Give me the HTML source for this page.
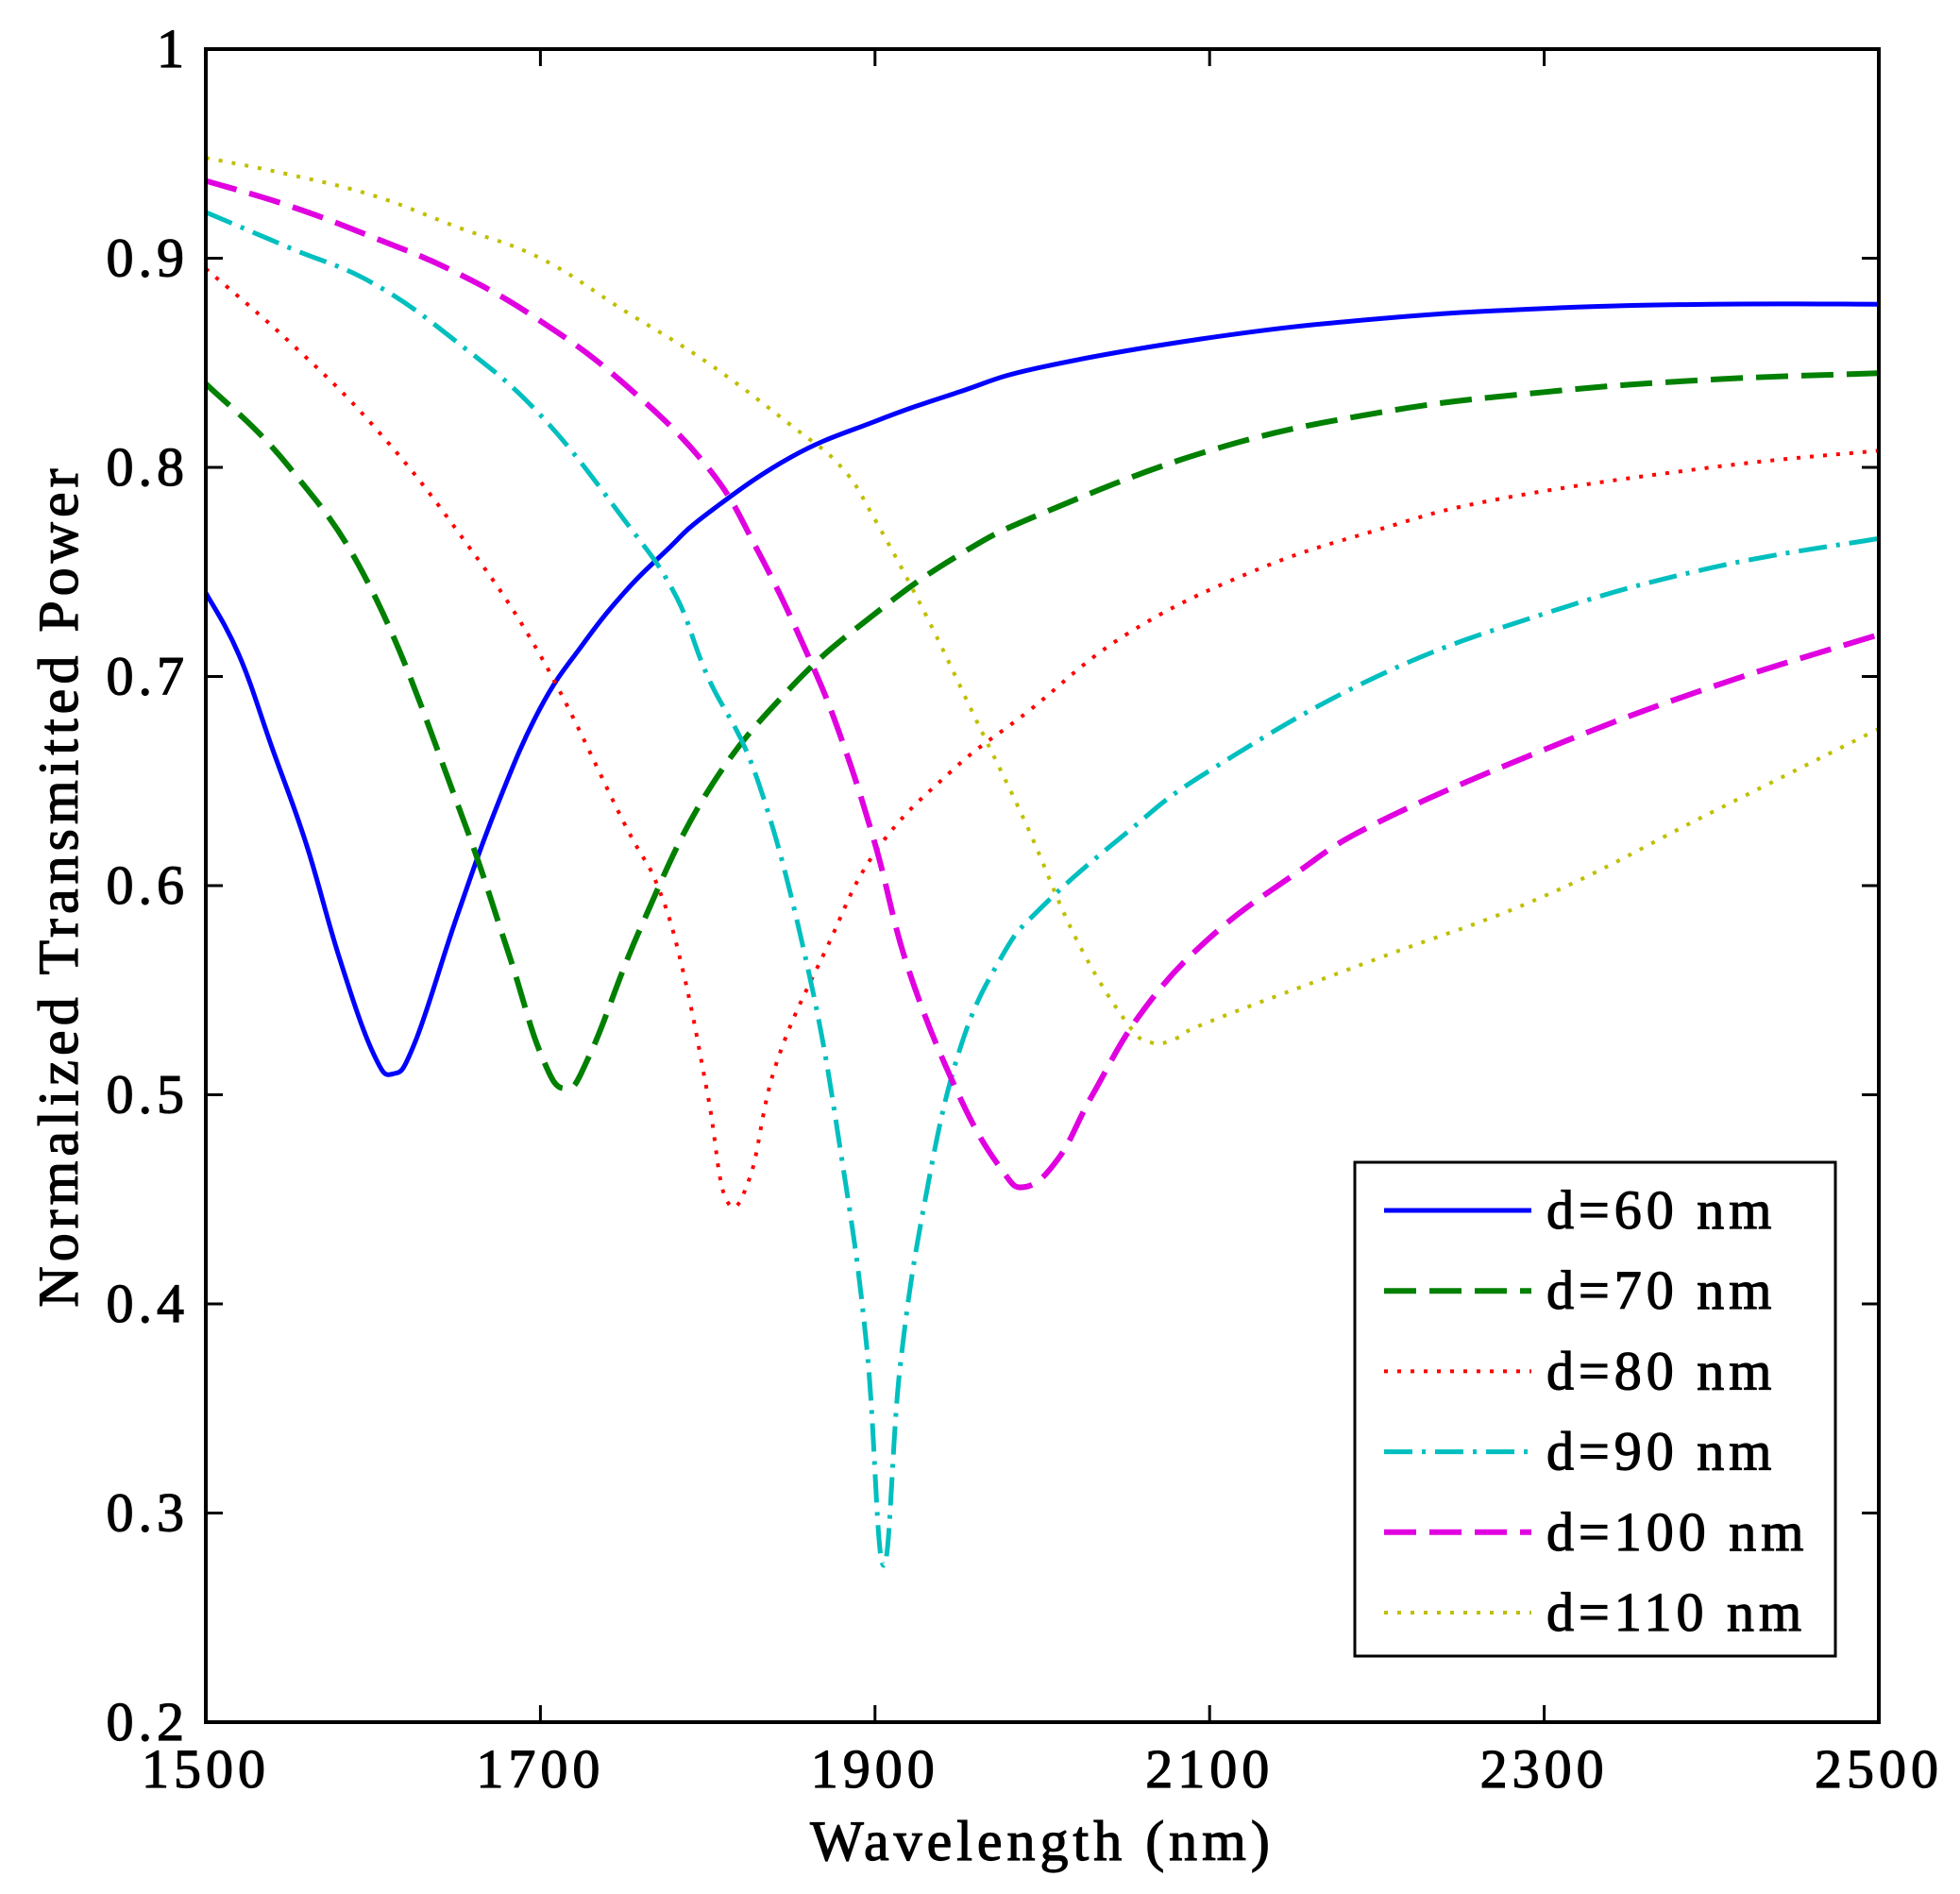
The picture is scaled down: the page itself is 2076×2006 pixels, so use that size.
<!DOCTYPE html>
<html><head><meta charset="utf-8"><style>
html,body{margin:0;padding:0;background:#fff}
svg{display:block}
text{font-family:"Liberation Serif",serif;font-weight:normal;fill:#000;stroke:#000;stroke-width:1.2;letter-spacing:5px}
</style></head><body>
<svg id="chart" width="2076" height="2006" viewBox="0 0 2076 2006" xmlns="http://www.w3.org/2000/svg">
<g id="marks"></g>
<rect x="218" y="52" width="1772" height="1772" fill="none" stroke="#000" stroke-width="4"/>
<g id="axes"></g>
<text x="1104" y="1970" font-size="60" text-anchor="middle">Wavelength (nm)</text>
<text transform="translate(82,938) rotate(-90)" font-size="60" text-anchor="middle">Normalized Transmitted Power</text>
<g>
<rect x="1435" y="1231" width="509" height="523" fill="#fff" stroke="#000" stroke-width="3"/>
<g id="legend-items"></g>
</g>
</svg>
<script>
const xTicks=[1500,1700,1900,2100,2300,2500];
const yTicks=[0.2,0.3,0.4,0.5,0.6,0.7,0.8,0.9,1];
const yTickLabels=["0.2","0.3","0.4","0.5","0.6","0.7","0.8","0.9","1"];
const seriesNames=["d=60 nm","d=70 nm","d=80 nm","d=90 nm","d=100 nm","d=110 nm"];
const w60=[1500,1520,1540,1560,1580,1600,1612,1625,1650,1675,1700,1725,1750,1775,1800,1850,1900,1950,2000,2100,2200,2300,2400,2500];
const v60=[0.74,0.71,0.665,0.62,0.565,0.52,0.51,0.525,0.585,0.64,0.685,0.715,0.74,0.76,0.778,0.805,0.822,0.836,0.848,0.862,0.871,0.876,0.878,0.878];
const w70=[1500,1550,1600,1650,1680,1700,1715,1730,1760,1800,1850,1900,1950,2000,2100,2200,2300,2400,2500];
const v70=[0.84,0.8,0.74,0.64,0.57,0.52,0.503,0.52,0.58,0.645,0.695,0.73,0.758,0.778,0.808,0.826,0.836,0.842,0.845];
const w80=[1500,1550,1600,1650,1700,1750,1770,1785,1800,1811,1825,1841,1871,1901,1946,1991,2050,2125,2200,2274,2400,2500];
const v80=[0.895,0.86,0.82,0.77,0.71,0.63,0.6,0.56,0.5,0.45,0.46,0.515,0.57,0.617,0.655,0.683,0.72,0.75,0.77,0.785,0.8,0.808];
const w90=[1500,1550,1600,1650,1700,1750,1780,1800,1830,1860,1880,1895,1905,1915,1930,1950,1975,2000,2050,2100,2200,2300,2400,2500];
const v90=[0.922,0.905,0.888,0.86,0.825,0.775,0.74,0.7,0.65,0.56,0.47,0.38,0.275,0.37,0.45,0.52,0.565,0.59,0.625,0.655,0.7,0.73,0.752,0.766];
const w100=[1500,1550,1600,1650,1700,1750,1800,1830,1860,1880,1900,1920,1950,1975,1990,2010,2030,2060,2100,2150,2200,2300,2400,2500];
const v100=[0.937,0.925,0.91,0.893,0.87,0.84,0.8,0.76,0.71,0.67,0.62,0.56,0.5,0.465,0.456,0.47,0.5,0.54,0.575,0.605,0.63,0.665,0.695,0.72];
const w110=[1500,1550,1600,1650,1700,1750,1800,1850,1880,1900,1930,1960,1990,2020,2050,2065,2080,2100,2200,2300,2400,2500];
const v110=[0.948,0.94,0.93,0.915,0.9,0.875,0.85,0.82,0.8,0.775,0.73,0.68,0.63,0.575,0.535,0.525,0.527,0.535,0.565,0.595,0.635,0.675];

const L=218,R=1990,T=52,B=1824;
const xs=v=>L+(v-1500)/1000*(R-L);
const ys=v=>B-(v-0.2)/0.8*(B-T);
const NS="http://www.w3.org/2000/svg";
function mk(tag,attrs,parent){const e=document.createElementNS(NS,tag);for(const k in attrs)e.setAttribute(k,attrs[k]);parent.appendChild(e);return e;}
function smoothPath(P){
  let d='M'+P[0][0].toFixed(1)+','+P[0][1].toFixed(1);
  for(let i=0;i<P.length-1;i++){
    const p0=P[Math.max(0,i-1)],p1=P[i],p2=P[i+1],p3=P[Math.min(P.length-1,i+2)];
    const t=0.4/3*1.5;
    const c1=[p1[0]+(p2[0]-p0[0])*t,p1[1]+(p2[1]-p0[1])*t];
    const c2=[p2[0]-(p3[0]-p1[0])*t,p2[1]-(p3[1]-p1[1])*t];
    d+='C'+c1[0].toFixed(1)+','+c1[1].toFixed(1)+' '+c2[0].toFixed(1)+','+c2[1].toFixed(1)+' '+p2[0].toFixed(1)+','+p2[1].toFixed(1);
  }
  return d;
}
const axes=document.getElementById('axes');
xTicks.forEach((t,i)=>{
  const x=xs(t);
  const a=mk('line',{x1:x,x2:x,y1:B,y2:B-18,stroke:'#000','stroke-width':3},axes);
  
  
  const b=mk('line',{x1:x,x2:x,y1:T,y2:T+18,stroke:'#000','stroke-width':3},axes);
  
  
  const tx=mk('text',{x:x,y:1893,'font-size':58,'text-anchor':'middle'},axes);
  tx.textContent=String(t);
  
  
});
yTicks.forEach((t,i)=>{
  const y=ys(t);
  const a=mk('line',{x1:L,x2:L+18,y1:y,y2:y,stroke:'#000','stroke-width':3},axes);
  
  
  const b=mk('line',{x1:R,x2:R-18,y1:y,y2:y,stroke:'#000','stroke-width':3},axes);
  
  
  const tx=mk('text',{x:200,y:y+19,'font-size':58,'text-anchor':'end'},axes);
  tx.textContent=yTickLabels[i];
  
  
});
const series=[[w60,v60],[w70,v70],[w80,v80],[w90,v90],[w100,v100],[w110,v110]];
const colors=['#0000ff','#008000','#ff0000','#00bfbf','#e000e0','#bfbf00'];
const dashes=['none','34 14','4 10','30 10 4 10','34 14','4 10'];
const widths=[5,6,4,5,6,4];
const marks=document.getElementById('marks');
series.forEach((s,i)=>{
  const P=s[0].map((w,j)=>[xs(w),ys(s[1][j])]);
  const p=mk('path',{d:smoothPath(P),fill:'none',stroke:colors[i],'stroke-width':widths[i],'stroke-dasharray':dashes[i],'stroke-linejoin':'round'},marks);
  
  
});
const lg=document.getElementById('legend-items');
seriesNames.forEach((n,i)=>{
  const y=1282+i*85.2;
  const l=mk('line',{x1:1466,x2:1622,y1:y,y2:y,stroke:colors[i],'stroke-width':widths[i],'stroke-dasharray':dashes[i]},lg);
  
  
  const t=mk('text',{x:1638,y:y+19,'font-size':58},lg);
  t.textContent=n;
  
  
});
</script>
</body></html>
